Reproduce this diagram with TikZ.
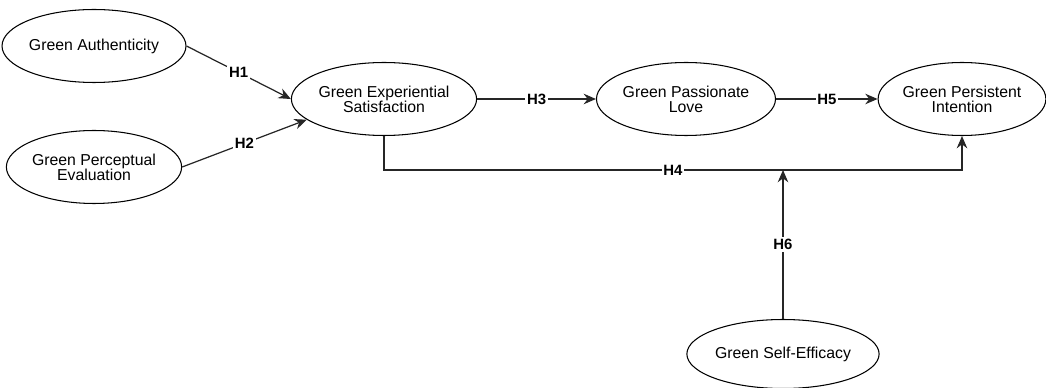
\documentclass[tikz,border=0pt]{standalone}
\usepackage{fontspec}
\setmainfont{Liberation Sans}
\usetikzlibrary{shapes.geometric,arrows.meta}
\begin{document}
\begin{tikzpicture}[x=0.02cm,y=-0.02cm,
  construct/.style={draw=black, line width=0.6pt, ellipse, inner sep=0pt,
    minimum width=3.32cm, minimum height=1.46cm, align=center,
    font=\fontsize{9}{8.6}\selectfont},
  link/.style={draw=black!85, line width=0.7pt, -{Stealth[length=7pt,width=6pt]}},
  hlabel/.style={fill=white, inner sep=1pt, font=\fontsize{8.5}{10}\selectfont\bfseries}]
\useasboundingbox (0,0) rectangle (1046,388);
\node[construct] (auth) at (94,46) {Green Authenticity};
\node[construct] (perc) at (94,167) {Green Perceptual\\Evaluation};
\node[construct] (esat) at (384,99) {Green Experiential\\Satisfaction};
\node[construct] (love) at (686,99) {Green Passionate\\Love};
\node[construct] (pers) at (962,99) {Green Persistent\\Intention};
\node[construct, minimum height=1.38cm] (self) at (783,354) {Green Self-Efficacy};
\coordinate (h4a) at (384,170);
\coordinate (h4b) at (962,170);
\coordinate (h6end) at (783,170);
\draw[link] (auth.east) -- node[hlabel] {H1} (esat.180);
\draw[link] (perc.east) -- node[hlabel] {H2} (esat.195);
\draw[link] (esat.east) -- node[hlabel] {H3} (love.west);
\draw[link] (love.east) -- node[hlabel] {H5} (pers.west);
\draw[link] (esat.south) -- (h4a) -- node[hlabel, pos=0.5] {H4} (h4b) -- (pers.south);
\draw[link] (self.north) -- node[hlabel] {H6} (h6end);
\end{tikzpicture}
\end{document}
